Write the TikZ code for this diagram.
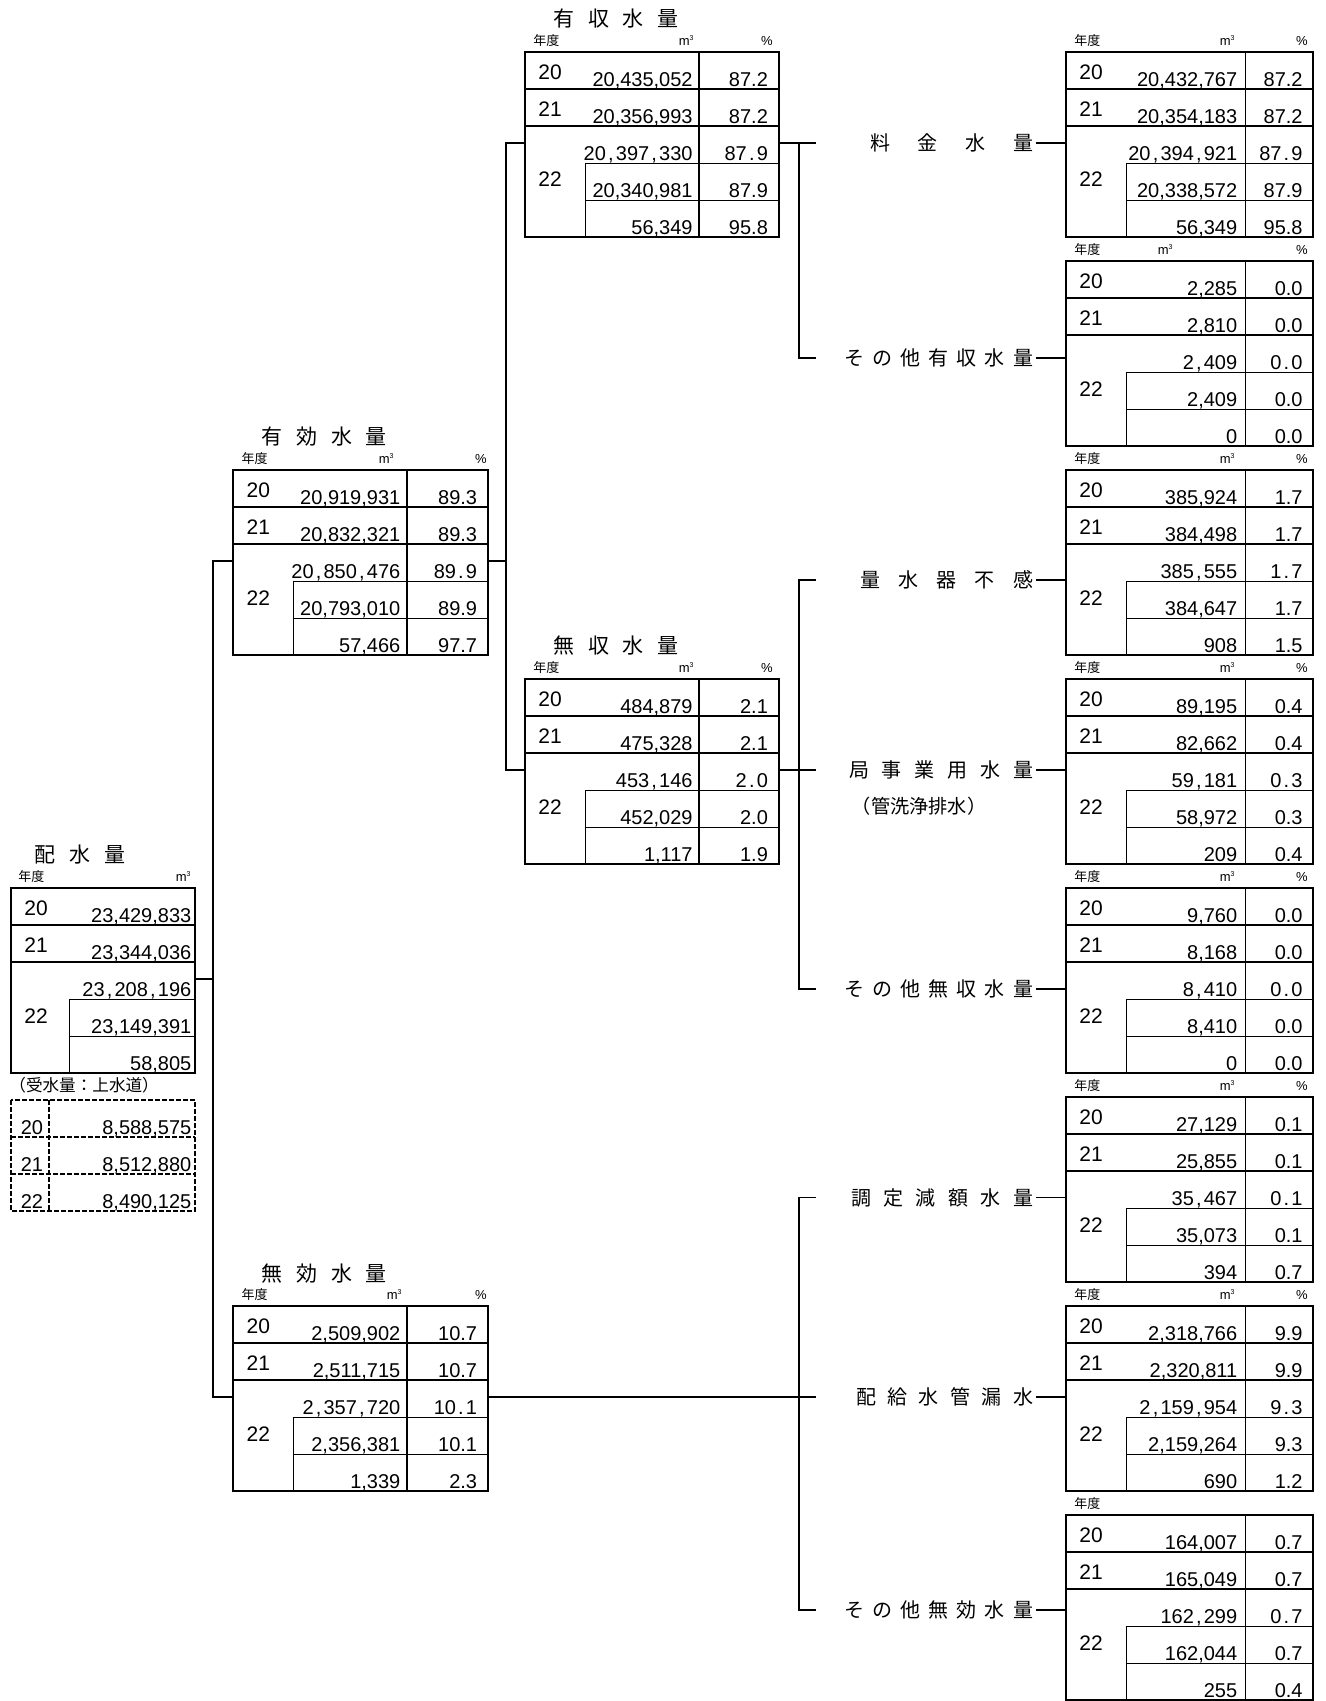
\documentclass[tikz,border=0pt]{standalone}
\usepackage{fontspec}
\setmainfont{Liberation Sans}
\newfontfamily\jp{Noto Sans CJK JP}

\newcommand{\spc}{\kern1.1pt,\kern1.1pt}
\newcommand{\spd}{\kern1.1pt.\kern1.1pt}

\tikzset{
	tline/.style={line width=0.85pt},
	tthin/.style={line width=0.45pt},
	dashbox/.style={line width=0.8pt, dash pattern=on 2.5pt off 1pt},
	num/.style={font=\fontsize{10}{12}\selectfont, anchor=base east, inner sep=0pt},
	yr/.style={font=\fontsize{10.5}{12}\selectfont, anchor=base west, inner sep=0pt},
	hdr/.style={font=\fontsize{6.5}{8}\selectfont, anchor=base east, inner sep=0pt},
	ttl/.style={font=\jp\fontsize{10.5}{12}\selectfont, inner sep=0pt},
	lbl/.style={font=\jp\fontsize{10}{12}\selectfont, anchor=east, inner sep=0pt, outer sep=1.5pt},
	note/.style={font=\jp\fontsize{8.3}{10}\selectfont, inner sep=0pt}
}

% table frame: name, left, top, inner x, column x, right, value x, percent x
\newcommand{\tframe}[8]{%
	\def\tN{#1}\def\tT{#3}\def\tV{#7}\def\tP{#8}
	\draw[tline] (#2,#3) rectangle (#6,#3+185);
	\draw[tline] (#2,#3+37) -- (#6,#3+37) (#2,#3+74) -- (#6,#3+74) (#5,#3) -- (#5,#3+185);
	\draw[tthin] (#4,#3+111) -- (#6,#3+111) (#4,#3+148) -- (#6,#3+148) (#4,#3+111) -- (#4,#3+185);
	\node[yr] (#1-y20) at (#2+13,#3+27.7) {20};
	\node[yr] (#1-y21) at (#2+13,#3+64.7) {21};
	\node[yr] (#1-y22) at (#2+13,#3+135) {22};
	\coordinate (#1-w) at (#2,#3+91);
	\coordinate (#1-e) at (#6,#3+91);
}
\newcommand{\tval}[3]{%
	\node[num] (\tN-v#1) at (\tV,\tT+37*#1+34.5) {#2};
	\node[num] (\tN-p#1) at (\tP,\tT+37*#1+34.5) {#3};
}
\newcommand{\tvalone}[2]{%
	\node[num] (\tN-v#1) at (\tV,\tT+37*#1+34.5) {#2};
}
\newcommand{\mcube}{m\textsuperscript{\fontsize{3.5}{4}\selectfont 3}}
% header row: name, left, top, m3 x, percent x
\newcommand{\nendo}[3]{%
	\node[hdr, anchor=base west, font=\jp\fontsize{6.5}{8}\selectfont] (#1-nen) at (#2+8,#3-6.5) {年度};
}
\newcommand{\thead}[5]{%
	\nendo{#1}{#2}{#3}
	\node[hdr] (#1-m3) at (#4,#3-6.5) {\mcube};
	\node[hdr] (#1-pc) at (#5,#3-6.5) {\%};
}

\begin{document}
\begin{tikzpicture}[x=0.5pt, y=-0.5pt]
	\useasboundingbox (0,1.5) rectangle (1326,1702.5);

	% 配水量
	\node[ttl] (hai-t) at (80,856) {\makebox[46pt][s]{配\hfill 水\hfill 量}};
	\nendo{hai}{10}{889.5}
	\node[hdr] (hai-m3) at (192,883) {\mcube};
	\tframe{hai}{11}{889.5}{69}{195}{195}{191.7}{191.7}
	\tvalone0{23,429,833}\tvalone1{23,344,036}\tvalone2{23\spc208\spc196}\tvalone3{23,149,391}\tvalone4{58,805}

	% 受水量
	\node[note, anchor=base west] (uke-t) at (9,1093) {（受水量：上水道）};
	\draw[dashbox] (11,1101.7) rectangle (195,1212.7);
	\draw[dashbox] (11,1138.7) -- (195,1138.7) (11,1175.7) -- (195,1175.7) (49,1101.7) -- (49,1212.7);
	\node[num] (uke-y20) at (43.5,1136.2) {20};
	\node[num] (uke-v20) at (191.7,1136.2) {8,588,575};
	\node[num] (uke-y21) at (43.5,1173.2) {21};
	\node[num] (uke-v21) at (191.7,1173.2) {8,512,880};
	\node[num] (uke-y22) at (43.5,1210.2) {22};
	\node[num] (uke-v22) at (191.7,1210.2) {8,490,125};

	% 有効水量 / 無効水量
	\node[ttl] (yuko-t) at (324.3,438.5) {\makebox[62.5pt][s]{有\hfill 効\hfill 水\hfill 量}};
	\thead{yuko}{233.3}{471.5}{395}{487}
	\tframe{yuko}{233.3}{471.5}{293.3}{406.7}{488.3}{400.7}{477.5}
	\tval0{20,919,931}{89.3}\tval1{20,832,321}{89.3}\tval2{20\spc850\spc476}{89\spd9}\tval3{20,793,010}{89.9}\tval4{57,466}{97.7}

	\node[ttl] (muko-t) at (324.3,1275.5) {\makebox[62.5pt][s]{無\hfill 効\hfill 水\hfill 量}};
	\thead{muko}{233.3}{1307.5}{403}{487}
	\tframe{muko}{233.3}{1307.5}{293.3}{406.7}{488.3}{400.7}{477.5}
	\tval0{2,509,902}{10.7}\tval1{2,511,715}{10.7}\tval2{2\spc357\spc720}{10\spd1}\tval3{2,356,381}{10.1}\tval4{1,339}{2.3}

	% 有収水量 / 無収水量
	\node[ttl] (yusyu-t) at (616,20.5) {\makebox[62.5pt][s]{有\hfill 収\hfill 水\hfill 量}};
	\thead{yusyu}{525}{53.5}{695}{773}
	\tframe{yusyu}{525}{53.5}{585.7}{699}{779.3}{693}{768.3}
	\tval0{20,435,052}{87.2}\tval1{20,356,993}{87.2}\tval2{20\spc397\spc330}{87\spd9}\tval3{20,340,981}{87.9}\tval4{56,349}{95.8}

	\node[ttl] (musyu-t) at (616,647.5) {\makebox[62.5pt][s]{無\hfill 収\hfill 水\hfill 量}};
	\thead{musyu}{525}{680.5}{695}{773}
	\tframe{musyu}{525}{680.5}{585.7}{699}{779.3}{693}{768.3}
	\tval0{484,879}{2.1}\tval1{475,328}{2.1}\tval2{453\spc146}{2\spd0}\tval3{452,029}{2.0}\tval4{1,117}{1.9}

	% 右の内訳
	\thead{r1}{1066}{53.5}{1236}{1308}
	\tframe{r1}{1066}{53.5}{1126.7}{1245.6}{1313}{1237.6}{1303}
	\tval0{20,432,767}{87.2}\tval1{20,354,183}{87.2}\tval2{20\spc394\spc921}{87\spd9}\tval3{20,338,572}{87.9}\tval4{56,349}{95.8}

	\thead{r2}{1066}{262.5}{1174}{1308}
	\tframe{r2}{1066}{262.5}{1126.7}{1245.6}{1313}{1237.6}{1303}
	\tval0{2,285}{0.0}\tval1{2,810}{0.0}\tval2{2\spc409}{0\spd0}\tval3{2,409}{0.0}\tval4{0}{0.0}

	\thead{r3}{1066}{471.5}{1236}{1308}
	\tframe{r3}{1066}{471.5}{1126.7}{1245.6}{1313}{1237.6}{1303}
	\tval0{385,924}{1.7}\tval1{384,498}{1.7}\tval2{385\spc555}{1\spd7}\tval3{384,647}{1.7}\tval4{908}{1.5}

	\thead{r4}{1066}{680.5}{1236}{1308}
	\tframe{r4}{1066}{680.5}{1126.7}{1245.6}{1313}{1237.6}{1303}
	\tval0{89,195}{0.4}\tval1{82,662}{0.4}\tval2{59\spc181}{0\spd3}\tval3{58,972}{0.3}\tval4{209}{0.4}

	\thead{r5}{1066}{889.5}{1236}{1308}
	\tframe{r5}{1066}{889.5}{1126.7}{1245.6}{1313}{1237.6}{1303}
	\tval0{9,760}{0.0}\tval1{8,168}{0.0}\tval2{8\spc410}{0\spd0}\tval3{8,410}{0.0}\tval4{0}{0.0}

	\thead{r6}{1066}{1098.5}{1236}{1308}
	\tframe{r6}{1066}{1098.5}{1126.7}{1245.6}{1313}{1237.6}{1303}
	\tval0{27,129}{0.1}\tval1{25,855}{0.1}\tval2{35\spc467}{0\spd1}\tval3{35,073}{0.1}\tval4{394}{0.7}

	\thead{r7}{1066}{1307.5}{1236}{1308}
	\tframe{r7}{1066}{1307.5}{1126.7}{1245.6}{1313}{1237.6}{1303}
	\tval0{2,318,766}{9.9}\tval1{2,320,811}{9.9}\tval2{2\spc159\spc954}{9\spd3}\tval3{2,159,264}{9.3}\tval4{690}{1.2}

	\nendo{r8}{1066}{1516.5}
	\tframe{r8}{1066}{1516.5}{1126.7}{1245.6}{1313}{1237.6}{1303}
	\tval0{164,007}{0.7}\tval1{165,049}{0.7}\tval2{162\spc299}{0\spd7}\tval3{162,044}{0.7}\tval4{255}{0.4}

	% labels
	\node[lbl] (L1) at (1036,144.5) {\makebox[81.5pt][s]{料\hfill 金\hfill 水\hfill 量}};
	\node[lbl] (L2) at (1036,359.5) {\makebox[94.5pt][s]{そ\hfill の\hfill 他\hfill 有\hfill 収\hfill 水\hfill 量}};
	\node[lbl] (L3) at (1036,581.5) {\makebox[86.5pt][s]{量\hfill 水\hfill 器\hfill 不\hfill 感}};
	\node[lbl] (L4) at (1036,771.5) {\makebox[92pt][s]{局\hfill 事\hfill 業\hfill 用\hfill 水\hfill 量}};
	\node[note, font=\jp\fontsize{9.6}{11}\selectfont] (L4n) at (919,808) {（管洗浄排水）};
	\node[lbl] (L5) at (1036,990.5) {\makebox[94.5pt][s]{そ\hfill の\hfill 他\hfill 無\hfill 収\hfill 水\hfill 量}};
	\node[lbl] (L6) at (1036,1199) {\makebox[91pt][s]{調\hfill 定\hfill 減\hfill 額\hfill 水\hfill 量}};
	\node[lbl] (L7) at (1036,1398.5) {\makebox[88.5pt][s]{配\hfill 給\hfill 水\hfill 管\hfill 漏\hfill 水}};
	\node[lbl] (L8) at (1036,1611.5) {\makebox[94.5pt][s]{そ\hfill の\hfill 他\hfill 無\hfill 効\hfill 水\hfill 量}};
	\foreach \k in {1,...,8}
		\draw[tline] (L\k) -- (L\k -| r\k-w);

	% connectors
	\coordinate (b1) at (213.3,0);
	\coordinate (b2) at (505.7,0);
	\coordinate (b3) at (799,0);
	\coordinate (t3) at (815.7,0);
	\draw[tline] (hai-e) -- (hai-e -| b1);
	\draw[tline] (yuko-w) -- (yuko-w -| b1) -- (muko-w -| b1) -- (muko-w);
	\draw[tline] (yuko-e) -- (yuko-e -| b2);
	\draw[tline] (yusyu-w) -- (yusyu-w -| b2) -- (musyu-w -| b2) -- (musyu-w);
	\draw[tline] (yusyu-e) -- (yusyu-e -| t3);
	\draw[tline] (yusyu-e -| b3) -- (L2 -| b3) -- (L2 -| t3);
	\draw[tline] (musyu-e) -- (musyu-e -| t3);
	\draw[tline] (L3 -| t3) -- (L3 -| b3) -- (L5 -| b3) -- (L5 -| t3);
	\draw[tline] (muko-e) -- (muko-e -| t3);
	\draw[tline] (L6 -| t3) -- (L6 -| b3) -- (L8 -| b3) -- (L8 -| t3);
\end{tikzpicture}
\end{document}
